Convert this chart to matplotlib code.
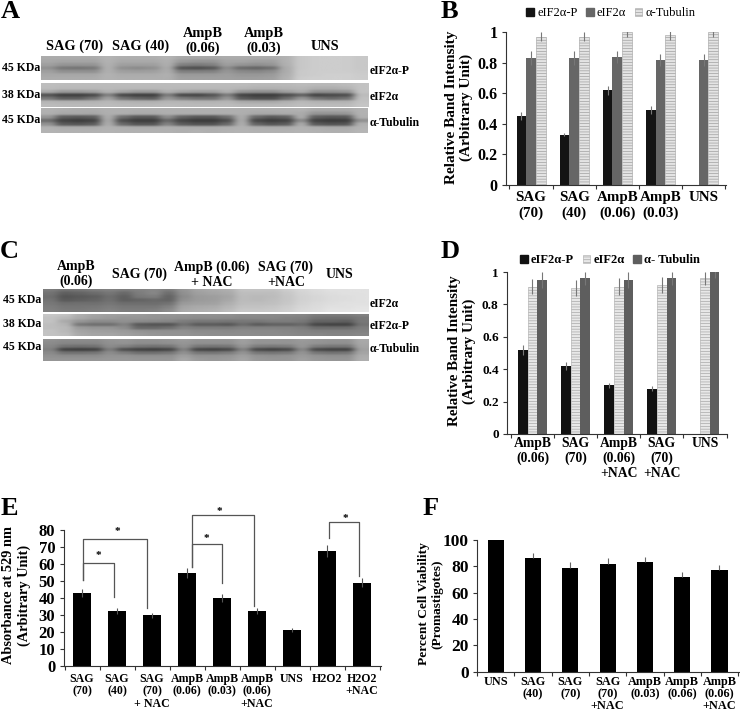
import numpy as np
import matplotlib
matplotlib.use("Agg")
import matplotlib.pyplot as plt
from matplotlib.patches import Patch

plt.rcParams['font.family'] = ['Liberation Serif', 'DejaVu Serif']
plt.rcParams['font.weight'] = 'bold'
plt.rcParams['hatch.linewidth'] = 0.5

W, H = 740, 712

# panel B
b_labels = ["SAG\n(70)", "SAG\n(40)", "AmpB\n(0.06)", "AmpB\n(0.03)", "UNS"]
b_p = [0.45, 0.33, 0.62, 0.49, 0]
b_p_err = [0.025, 0.012, 0.03, 0.025, 0]
b_e = [0.83, 0.83, 0.84, 0.82, 0.82]
b_e_err = [0.045, 0.045, 0.04, 0.04, 0.04]
b_t = [0.97, 0.97, 1.0, 0.98, 1.0]
b_t_err = [0.03, 0.03, 0.03, 0.03, 0.03]

# panel D
d_labels = ["AmpB\n(0.06)", "SAG\n(70)", "AmpB\n(0.06)\n+NAC", "SAG\n(70)\n+NAC", "UNS"]
d_p = [0.52, 0.42, 0.30, 0.28, 0]
d_p_err = [0.03, 0.025, 0.015, 0.015, 0]
d_e = [0.91, 0.90, 0.91, 0.92, 0.96]
d_e_err = [0.045, 0.05, 0.05, 0.05, 0.04]
d_t = [0.95, 0.96, 0.95, 0.96, 1.0]
d_t_err = [0.05, 0.04, 0.05, 0.04, 0.04]

# panel E
e_labels = ["SAG\n(70)", "SAG\n(40)", "SAG\n(70)\n+ NAC", "AmpB\n(0.06)", "AmpB\n(0.03)",
            "AmpB\n(0.06)\n+NAC", "UNS", "H2O2", "H2O2\n+NAC"]
e_vals = [42.8, 32.5, 29.7, 54.8, 40, 32, 20.8, 67.5, 49]
e_err = [2.2, 1.8, 1.5, 3, 2.2, 1.8, 1.2, 3.5, 2.7]
# x left, x right, top, left end, right end, star x, star y
e_brackets = [
    (0.04, 0.92, 60.3, 50.5, 40.3, 0.47, 65.2),
    (0.04, 1.86, 74.5, 50.5, 34, 1.0, 79.3),
    (3.13, 4.0, 71.7, 58, 49, 3.54, 75),
    (3.13, 4.92, 88.8, 58, 35.4, 3.92, 90.8),
    (7.06, 7.92, 84.5, 75.4, 52.8, 7.52, 86.5),
]

# panel F
f_labels = ["UNS", "SAG\n(40)", "SAG\n(70)", "SAG\n(70)\n+NAC", "AmpB\n(0.03)", "AmpB\n(0.06)", "AmpB\n(0.06)\n+NAC"]
f_vals = [100, 86, 79, 82, 83, 72, 77]
f_err = [0, 4.5, 4.2, 4.3, 4, 3.8, 4]

# blot strips, grey levels
a1 = [
    [172, 172, 172, 172, 180, 175, 175, 175, 180, 168, 168, 168, 172, 172, 172, 172, 178, 200, 205, 205, 205, 200],
    [168, 165, 165, 165, 178, 170, 170, 170, 176, 155, 150, 150, 165, 165, 160, 160, 178, 200, 205, 205, 205, 200],
    [160, 150, 150, 150, 176, 160, 160, 160, 174, 130, 125, 130, 158, 150, 145, 150, 176, 200, 205, 205, 205, 200],
    [145, 120, 118, 122, 175, 145, 140, 145, 170, 85, 80, 88, 140, 108, 102, 112, 172, 200, 205, 205, 205, 200],
    [160, 145, 145, 145, 175, 160, 158, 160, 172, 128, 128, 130, 150, 138, 135, 142, 172, 202, 205, 205, 205, 202],
    [168, 168, 168, 168, 178, 172, 172, 172, 176, 155, 155, 155, 158, 152, 152, 155, 175, 202, 205, 208, 208, 204],
    [172, 172, 172, 172, 178, 175, 175, 175, 175, 160, 160, 160, 160, 158, 158, 160, 178, 205, 208, 208, 208, 205],
]
a2 = [
    [190, 188, 188, 188, 188, 188, 188, 188, 188, 188, 188, 188, 188, 188, 185, 185, 185, 188, 185, 185, 188, 195],
    [188, 185, 185, 185, 186, 185, 185, 185, 186, 185, 185, 185, 185, 182, 178, 178, 180, 182, 175, 175, 180, 195],
    [170, 155, 155, 160, 178, 165, 155, 155, 176, 165, 160, 160, 176, 150, 145, 145, 160, 172, 145, 145, 150, 195],
    [85, 65, 65, 75, 130, 75, 65, 65, 125, 75, 72, 85, 125, 70, 62, 62, 78, 100, 70, 75, 80, 188],
    [120, 95, 95, 115, 160, 115, 100, 95, 150, 125, 115, 115, 150, 90, 80, 80, 110, 150, 115, 105, 115, 192],
    [182, 180, 180, 180, 184, 180, 178, 178, 182, 182, 180, 180, 182, 172, 170, 170, 178, 185, 180, 180, 180, 195],
    [188, 186, 186, 186, 188, 186, 186, 186, 188, 186, 186, 186, 188, 185, 185, 185, 186, 190, 188, 188, 188, 198],
]
a3 = [
    [178, 175, 172, 172, 176, 176, 175, 175, 176, 176, 176, 176, 176, 176, 175, 175, 176, 178, 170, 170, 170, 178],
    [176, 170, 170, 168, 175, 175, 172, 172, 175, 175, 175, 175, 175, 175, 170, 170, 172, 172, 150, 150, 152, 178],
    [150, 95, 90, 95, 172, 110, 90, 90, 140, 100, 88, 88, 110, 172, 105, 90, 98, 172, 95, 88, 90, 176],
    [110, 68, 62, 68, 168, 78, 62, 62, 105, 70, 60, 60, 78, 170, 72, 62, 68, 140, 66, 60, 62, 145],
    [145, 90, 85, 92, 172, 105, 85, 85, 130, 92, 82, 82, 105, 174, 100, 85, 92, 170, 90, 82, 85, 176],
    [178, 174, 174, 174, 178, 176, 174, 174, 176, 175, 174, 174, 176, 178, 175, 174, 174, 178, 175, 172, 172, 180],
    [180, 178, 178, 178, 180, 178, 178, 178, 178, 175, 178, 175, 178, 180, 178, 178, 178, 180, 178, 176, 176, 182],
]
c1 = [
    [125, 115, 118, 125, 130, 125, 130, 135, 125, 150, 165, 170, 175, 195, 195, 195, 205, 215, 220, 225, 225, 225],
    [115, 95, 100, 108, 118, 105, 125, 135, 110, 145, 160, 165, 170, 190, 190, 190, 200, 212, 218, 222, 225, 225],
    [110, 85, 90, 95, 110, 95, 120, 125, 100, 140, 155, 158, 165, 188, 185, 188, 198, 210, 215, 220, 222, 225],
    [115, 90, 95, 100, 112, 95, 100, 105, 100, 145, 155, 158, 168, 188, 185, 190, 198, 210, 215, 220, 222, 225],
    [120, 110, 112, 112, 118, 110, 110, 110, 115, 155, 160, 162, 175, 190, 190, 192, 200, 212, 218, 222, 225, 225],
    [125, 118, 118, 120, 125, 120, 120, 120, 130, 165, 170, 172, 182, 195, 195, 198, 205, 215, 220, 225, 225, 228],
    [128, 122, 122, 125, 130, 125, 125, 128, 140, 170, 175, 178, 188, 200, 200, 202, 208, 218, 222, 228, 228, 230],
]
c2 = [
    [200, 195, 175, 165, 160, 158, 155, 150, 150, 148, 145, 145, 145, 140, 140, 138, 138, 135, 125, 125, 125, 130],
    [195, 185, 170, 160, 155, 150, 150, 148, 145, 142, 140, 140, 138, 135, 135, 135, 130, 128, 115, 112, 112, 120],
    [195, 170, 150, 140, 140, 145, 140, 138, 135, 125, 120, 120, 118, 120, 120, 125, 125, 120, 100, 100, 95, 120],
    [190, 180, 120, 112, 112, 130, 90, 85, 85, 112, 92, 92, 88, 108, 92, 98, 98, 105, 72, 68, 68, 115],
    [190, 185, 155, 150, 150, 140, 105, 105, 112, 130, 125, 125, 125, 130, 130, 130, 130, 125, 110, 110, 110, 125],
    [195, 185, 165, 160, 158, 155, 148, 145, 145, 145, 140, 140, 138, 140, 138, 138, 135, 132, 128, 128, 128, 130],
    [195, 190, 170, 165, 165, 160, 155, 150, 148, 148, 145, 142, 142, 142, 140, 140, 138, 135, 135, 132, 132, 135],
]
c3 = [
    [145, 140, 140, 140, 148, 150, 145, 145, 148, 155, 148, 148, 148, 160, 150, 150, 148, 155, 150, 148, 148, 170],
    [140, 135, 135, 135, 145, 148, 142, 142, 145, 150, 145, 145, 145, 158, 148, 148, 148, 152, 148, 145, 145, 168],
    [135, 115, 112, 115, 140, 130, 118, 115, 118, 145, 120, 118, 120, 150, 125, 122, 125, 150, 125, 120, 120, 165],
    [128, 68, 65, 68, 125, 80, 68, 65, 72, 130, 72, 68, 75, 130, 75, 68, 75, 135, 75, 68, 68, 160],
    [138, 115, 115, 118, 140, 125, 112, 112, 118, 145, 120, 118, 125, 148, 120, 118, 122, 148, 120, 115, 118, 165],
    [145, 142, 142, 142, 148, 148, 145, 145, 145, 160, 148, 148, 150, 160, 148, 145, 148, 155, 148, 145, 145, 172],
    [150, 150, 150, 150, 152, 152, 150, 150, 150, 168, 155, 152, 155, 165, 152, 150, 150, 160, 152, 150, 150, 175],
]


def make_ax(l, r, t, b):
    return fig.add_axes([l / W, 1 - b / H, (r - l) / W, (b - t) / H])


def txt(x, y, s, size, **kw):
    kw.setdefault('ha', 'center')
    kw.setdefault('va', 'center')
    kw.setdefault('linespacing', 1.15)
    fig.text(x / W, 1 - y / H, s, fontsize=size, **kw)


def blot(grid, l, r, t, b):
    ax = make_ax(l, r, t, b)
    # repeat the cells so that bands keep their edges after smoothing
    img = np.repeat(np.repeat(np.array(grid), 2, axis=0), 2, axis=1)
    ax.imshow(img, cmap='gray', vmin=0, vmax=255, aspect='auto', interpolation='bicubic')
    ax.axis('off')


def style(ax, n, labels, tick_size, label_size, pad, spacing, yticks, ylim, ylabels=None):
    ax.set_xticks(np.arange(n))
    ax.set_xticklabels(labels, fontsize=label_size, linespacing=spacing)
    ax.tick_params(axis='x', which='major', length=0, pad=pad)
    ax.set_xticks(np.arange(n + 1) - 0.5, minor=True)
    ax.tick_params(axis='x', which='minor', length=3, width=0.8, color='#333333')
    ax.set_ylim(*ylim)
    ax.set_yticks(yticks)
    if ylabels:
        ax.set_yticklabels(ylabels)
    ax.tick_params(axis='y', length=3, width=0.8, color='#333333', labelsize=tick_size, pad=3)
    ax.spines['top'].set_visible(False)
    ax.spines['right'].set_visible(False)
    ax.spines['left'].set_color('#333333')
    ax.spines['bottom'].set_color('#333333')


def grouped(ax, series, errs, styles):
    x = np.arange(len(series[0]))
    w = 0.224
    for i in range(3):
        ax.bar(x + (i - 1) * w, series[i], w, **styles[i])
        ax.errorbar(x + (i - 1) * w, series[i], yerr=errs[i], fmt='none', ecolor='#777777', elinewidth=0.8)


fig = plt.figure(figsize=(W / 100, H / 100), dpi=100)

# blots A
blot(a1, 41, 368, 56, 80)
blot(a2, 41, 369, 83, 107)
blot(a3, 41, 368, 108, 133)
txt(75, 46, "SAG (70)", 10.4)
txt(141, 46, "SAG (40)", 10.4)
txt(203, 41, "AmpB\n(0.06)", 10.4)
txt(264, 41, "AmpB\n(0.03)", 10.4)
txt(325, 46, "UNS", 10.4)
txt(2, 68, "45 KDa", 8.5, ha='left')
txt(2, 95, "38 KDa", 8.5, ha='left')
txt(2, 120, "45 KDa", 8.5, ha='left')
txt(370, 71, "eIF2α-P", 8.5, ha='left')
txt(370, 97, "eIF2α", 8.5, ha='left')
txt(370, 123, "α-Tubulin", 8.5, ha='left')

# blots C
blot(c1, 43, 369, 289, 312)
blot(c2, 43, 369, 314, 336)
blot(c3, 43, 369, 339, 361)
txt(76, 274, "AmpB\n(0.06)", 10)
txt(140, 274, "SAG (70)", 10)
txt(212, 275, "AmpB (0.06)\n+ NAC", 10)
txt(286, 275, "SAG (70)\n+NAC", 10)
txt(340, 275, "UNS", 10)
txt(3, 300, "45 KDa", 8.5, ha='left')
txt(3, 324, "38 KDa", 8.5, ha='left')
txt(3, 347, "45 KDa", 8.5, ha='left')
txt(370, 304, "eIF2α", 8.5, ha='left')
txt(370, 326, "eIF2α-P", 8.5, ha='left')
txt(370, 349, "α-Tubulin", 8.5, ha='left')

# B
ax = make_ax(506, 726, 32.3, 185)
b_styles = [dict(color='#141414'), dict(color='#666666'),
            dict(facecolor='#e4e4e4', edgecolor='#a0a0a0', hatch='------', linewidth=0.4)]
grouped(ax, [b_p, b_e, b_t], [b_p_err, b_e_err, b_t_err], b_styles)
ax.set_xlim(-0.58, 4.52)
style(ax, 5, b_labels, 11.5, 10.8, 4, 1.3, [0, 0.2, 0.4, 0.6, 0.8, 1], (0, 1), ["0", "0.2", "0.4", "0.6", "0.8", "1"])
handles = [Patch(**b_styles[0]), Patch(**b_styles[1]), Patch(**b_styles[2])]
fig.legend(handles, ["eIF2α-P", "eIF2α", "α-Tubulin"], ncol=3, frameon=False, loc='center',
           bbox_to_anchor=(611 / W, 1 - 13 / H), handlelength=0.6, handleheight=0.6, handletextpad=0.25,
           columnspacing=0.7, prop={'size': 9, 'weight': 'normal'})
txt(459, 107, "Relative Band Intensity\n(Arbitrary Unit)", 11, rotation=90)

# D
ax = make_ax(507, 727, 272, 434)
d_styles = [dict(color='#111111'),
            dict(facecolor='#e8e8e8', edgecolor='#a8a8a8', hatch='------', linewidth=0.4),
            dict(color='#5e5e5e')]
grouped(ax, [d_p, d_e, d_t], [d_p_err, d_e_err, d_t_err], d_styles)
ax.set_xlim(-0.59, 4.51)
style(ax, 5, d_labels, 9.5, 9.8, 2, 1.2, [0, 0.2, 0.4, 0.6, 0.8, 1], (0, 1), ["0", "0.2", "0.4", "0.6", "0.8", "1"])
handles = [Patch(**d_styles[0]), Patch(**d_styles[1]), Patch(**d_styles[2])]
fig.legend(handles, ["eIF2α-P", "eIF2α", "α- Tubulin"], ncol=3, frameon=False, loc='center',
           bbox_to_anchor=(610 / W, 1 - 260 / H), handlelength=0.6, handleheight=0.6, handletextpad=0.25,
           columnspacing=0.7, prop={'size': 9, 'weight': 'bold'})
txt(462, 351, "Relative Band Intensity\n(Arbitrary Unit)", 10.8, rotation=90)

# E
ax = make_ax(63.7, 381, 530, 665.7)
ax.bar(np.arange(9), e_vals, 0.5, color='black')
ax.errorbar(np.arange(9), e_vals, yerr=e_err, fmt='none', ecolor='#555555', elinewidth=0.8)
ax.set_xlim(-0.523, 8.54)
style(ax, 9, e_labels, 12, 8.6, 5, 1.08, range(0, 81, 10), (0, 80))
for xl, xr, top, yl, yr, sx, sy in e_brackets:
    ax.plot([xl, xl, xr, xr], [yl, top, top, yr], color='#555555', lw=0.9, clip_on=False)
    ax.text(sx, sy, "*", fontsize=8, ha='center', va='center', clip_on=False)
txt(16.5, 595, "Absorbance at 529 nm\n(Arbitrary Unit)", 10.4, rotation=90, linespacing=1.3)

# F
ax = make_ax(477, 740, 540, 671.7)
xf = np.arange(7)
ax.bar(xf, f_vals, 0.43, color='black')
ax.errorbar(xf, f_vals, yerr=[[0] * 7, f_err], fmt='none', ecolor='#666666', elinewidth=0.8)
ax.set_xlim(-0.49, 6.55)
style(ax, 7, f_labels, 12.5, 8.8, 3, 1.03, range(0, 101, 20), (0, 100))
txt(431, 604, "Percent Cell Viability\n(Promastigotes)", 9.6, rotation=90)

# panel letters
txt(1, 18, "A", 19, ha='left', va='baseline')
txt(441, 18, "B", 19, ha='left', va='baseline')
txt(0, 258, "C", 19, ha='left', va='baseline')
txt(441, 258, "D", 19, ha='left', va='baseline')
txt(1, 515, "E", 19, ha='left', va='baseline')
txt(423, 515, "F", 19, ha='left', va='baseline')

fig.savefig("out.png", dpi=100)
